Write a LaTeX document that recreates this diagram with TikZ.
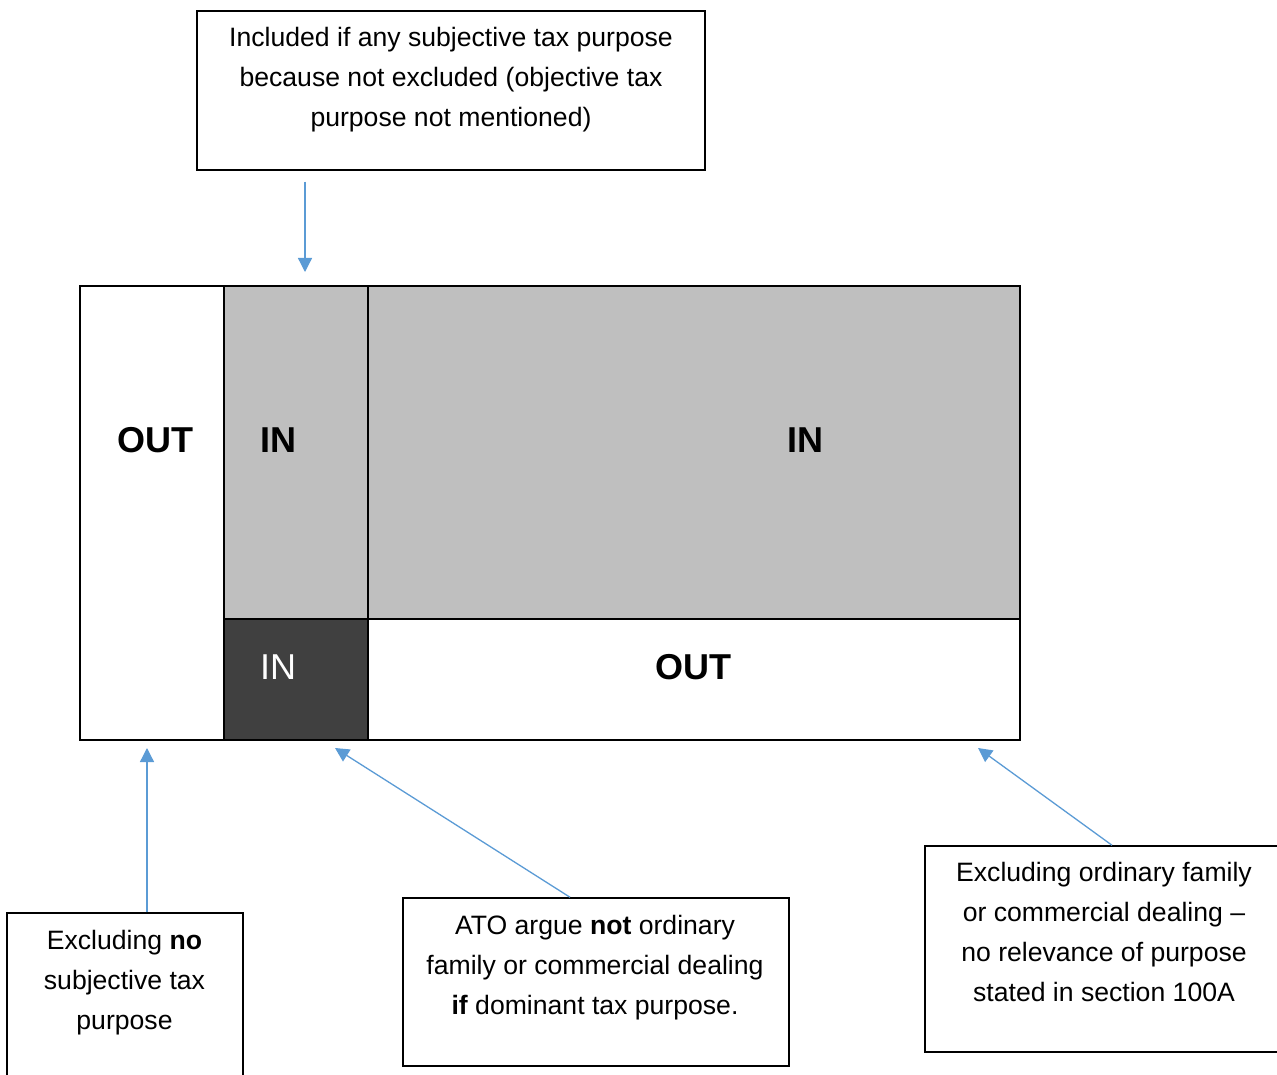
\documentclass[tikz,border=0pt]{standalone}
\usepackage{fontspec}
\setmainfont{Liberation Sans}
\usetikzlibrary{arrows.meta}
\definecolor{linkblue}{HTML}{5B9BD5}
\definecolor{lightfill}{HTML}{BFBFBF}
\definecolor{darkfill}{HTML}{404040}
\begin{document}
\begin{tikzpicture}[x=1pt,y=-1pt,
  note/.style={draw=black, line width=1.5pt, inner sep=0pt},
  notetext/.style={anchor=north, align=center, inner sep=0pt,
    font=\fontsize{26.6}{40}\selectfont},
  cell/.style={draw=black, line width=2pt, inner sep=0pt},
  tag/.style={inner sep=0pt, font=\fontsize{36}{36}\selectfont\bfseries},
  pointer/.style={draw=linkblue, line width=1.3pt,
    -{Triangle[length=14pt,width=14pt]}}]
\useasboundingbox (0,0) rectangle (1277,1075);
\clip (0,0) rectangle (1277,1075);

% the grid of cases
\node[cell, minimum width=144pt, minimum height=454pt] (outcol) at (152,513) {};
\node[cell, fill=lightfill, minimum width=144pt, minimum height=333pt] (innarrow) at (296,452.5) {};
\node[cell, fill=lightfill, minimum width=652pt, minimum height=333pt] (inwide) at (694,452.5) {};
\node[cell, fill=darkfill, minimum width=144pt, minimum height=121pt] (indark) at (296,679.5) {};
\node[cell, minimum width=652pt, minimum height=121pt] (outwide) at (694,679.5) {};

\node[tag] (l1) at (155,440) {OUT};
\node[tag] (l2) at (278,440) {IN};
\node[tag] (l3) at (805,440) {IN};
\node[tag, font=\fontsize{36}{36}\selectfont, text=white] (l4) at (278,667) {IN};
\node[tag] (l5) at (693,667) {OUT};

% explanatory notes
\node[note, minimum width=508pt, minimum height=159pt] (topbox) at (451,90.5) {};
\node[notetext] (toptext) at (451,27.5) {Included if any subjective tax purpose\\because not excluded (objective tax\\purpose not mentioned)};

\node[note, minimum width=236pt, minimum height=172pt] (b1) at (125,999) {};
\node[notetext] (t1) at (124.5,930.5) {Excluding \textbf{no}\\subjective tax\\purpose};

\node[note, minimum width=386pt, minimum height=168pt] (b2) at (596,982) {};
\node[notetext] (t2) at (595,915.5) {ATO argue \textbf{not} ordinary\\family or commercial dealing\\\textbf{if} dominant tax purpose.};

\node[note, minimum width=358pt, minimum height=206pt] (b3) at (1104,949) {};
\node[notetext] (t3) at (1104,862.5) {Excluding ordinary family\\or commercial dealing –\\no relevance of purpose\\stated in section 100A};

% pointers
\coordinate (p0) at (305,272);
\coordinate (p1) at (147,748);
\coordinate (p2) at (335,748);
\coordinate (p3) at (978,748);
\coordinate (s2) at (570,0);
\coordinate (s3) at (1112,0);

\draw[pointer] ([yshift=-11pt]topbox.south -| p0) -- (p0);
\draw[pointer] (b1.north -| p1) -- (p1);
\draw[pointer] (b2.north -| s2) -- (p2);
\draw[pointer] (b3.north -| s3) -- (p3);
\end{tikzpicture}
\end{document}
